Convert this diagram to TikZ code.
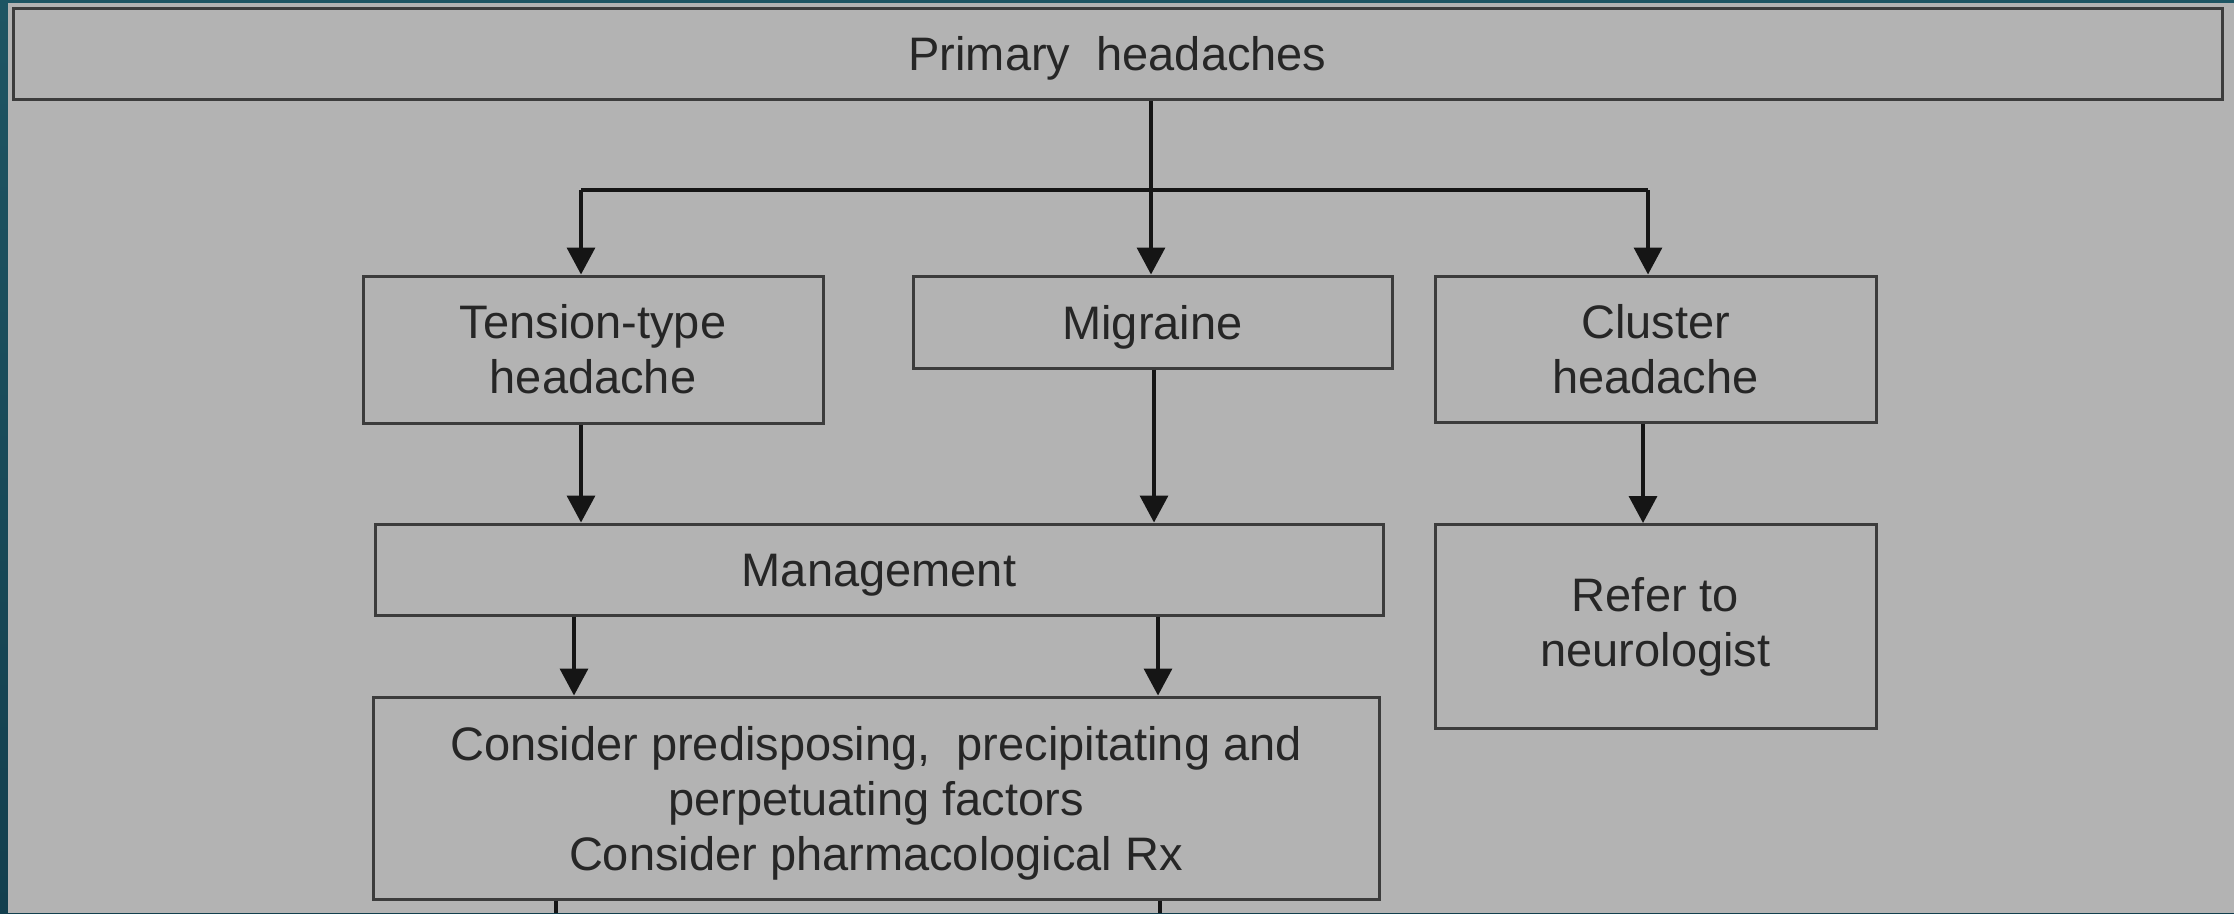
\documentclass[tikz,border=0pt]{standalone}
\usepackage{fontspec}
\setmainfont{Liberation Sans}
\usetikzlibrary{arrows.meta}
\definecolor{bg}{HTML}{B3B3B3}
\definecolor{teal1}{HTML}{1E5563}
\definecolor{teal2}{HTML}{123F4E}
\definecolor{boxc}{HTML}{3C3C3C}
\definecolor{txt}{HTML}{262626}
\definecolor{arrc}{HTML}{151515}
\begin{document}
\begin{tikzpicture}[x=1pt,y=-1pt,
  box/.style={draw=boxc,line width=3pt,inner sep=0pt,align=center,text=txt,
    font=\fontsize{47}{55}\selectfont},
  oneline/.style={text height=34pt,text depth=0pt},
  link/.style={draw=arrc,line width=3.5pt},
  arr/.style={link,-{Triangle[length=27pt,width=28pt]}}]
\useasboundingbox (0,0) rectangle (2234,913);
\shade[top color=teal1,bottom color=teal2] (0,0) rectangle (2234,913);
\fill[bg] (8,3) rectangle (2234,913);
\node[box,oneline,minimum width=2209pt,minimum height=91pt] (top) at (1117.5,53.5) {Primary\ \ headaches};
\node[box,minimum width=460pt,minimum height=147pt] (tension) at (593,349.5) {Tension-type\\headache};
\node[box,oneline,minimum width=479pt,minimum height=92pt] (migraine) at (1152.5,322) {Migraine};
\node[box,minimum width=441pt,minimum height=146pt] (cluster) at (1655.5,349) {Cluster\\headache};
\node[box,oneline,minimum width=1008pt,minimum height=91pt] (mgmt) at (879,569.5) {Management};
\node[box,minimum width=441pt,minimum height=204pt] (refer) at (1655.5,626.5) {Refer to\\neurologist};
\node[box,text depth=0pt,minimum width=1006pt,minimum height=202pt] (consider) at (876,798) {Consider predisposing,\ \ precipitating and\\perpetuating factors\\Consider pharmacological Rx};
\coordinate (bL) at (581,190);
\coordinate (bM) at (1151,190);
\coordinate (bR) at (1648,190);
\coordinate (e1) at (556,913);
\coordinate (e2) at (1160,913);
\draw[link] (top.south -| bM) -- (bM);
\draw[link] (bL) -- (bR);
\draw[arr] (bL) -- (bL |- tension.north);
\draw[arr] (bM) -- (bM |- migraine.north);
\draw[arr] (bR) -- (bR |- cluster.north);
\draw[arr] (tension.south -| 581,0) -- (mgmt.north -| 581,0);
\draw[arr] (migraine.south -| 1154,0) -- (mgmt.north -| 1154,0);
\draw[arr] (cluster.south -| 1643,0) -- (refer.north -| 1643,0);
\draw[arr] (mgmt.south -| 574,0) -- (consider.north -| 574,0);
\draw[arr] (mgmt.south -| 1158,0) -- (consider.north -| 1158,0);
\draw[link] (consider.south -| e1) -- (e1);
\draw[link] (consider.south -| e2) -- (e2);
\end{tikzpicture}
\end{document}
